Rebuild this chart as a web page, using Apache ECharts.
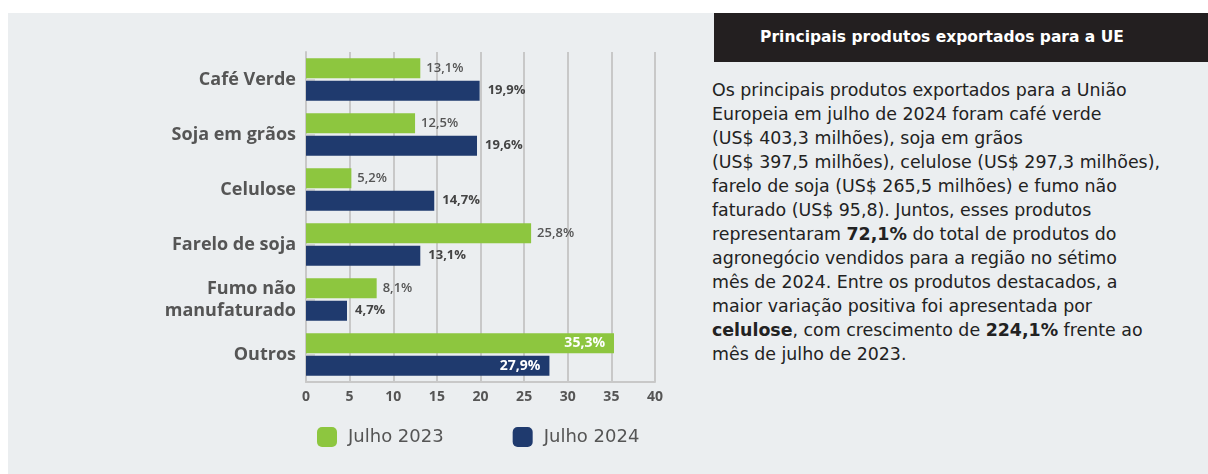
<!DOCTYPE html>
<html>
<head>
<meta charset="utf-8">
<script src="https://cdn.jsdelivr.net/npm/echarts@6/dist/echarts.min.js"></script>
<style>
  html, body { margin: 0; padding: 0; background: #fff; }
  #page { position: absolute; left: 8px; top: 13px; width: 1200px; height: 461px; background: #ebeef0; }
  #chart { position: absolute; left: 0; top: 0; width: 700px; height: 474px; }
  #head { position: absolute; left: 714px; top: 13px; width: 456px; padding-right: 38px; height: 49px; background: #231f20;
    color: #fff; font: bold 15.5px "DejaVu Sans", sans-serif; text-align: center; line-height: 49px; white-space: nowrap; }
  #txt { position: absolute; left: 712px; top: 78px; width: 496px; color: #222;
    font: 17.4px "DejaVu Sans", sans-serif; line-height: 24px; white-space: nowrap; }
  #txt b { font-weight: 700; }
</style>
</head>
<body>
<div id="page"></div>
<div id="chart"></div>
<div id="head">Principais produtos exportados para a UE</div>
<div id="txt">Os principais produtos exportados para a União<br>Europeia em julho de 2024 foram café verde<br>(US$ 403,3 milhões), soja em grãos<br>(US$ 397,5 milhões), celulose (US$ 297,3 milhões),<br>farelo de soja (US$ 265,5 milhões) e fumo não<br>faturado (US$ 95,8). Juntos, esses produtos<br>representaram <b>72,1%</b> do total de produtos do<br>agronegócio vendidos para a região no sétimo<br>mês de 2024. Entre os produtos destacados, a<br>maior variação positiva foi apresentada por<br><b>celulose</b>, com crescimento de <b>224,1%</b> frente ao<br>mês de julho de 2023.</div>
<script>
const categories = ["Café Verde", "Soja em grãos", "Celulose", "Farelo de soja", "Fumo não\nmanufaturado", "Outros"];
const julho2023 = [13.1, 12.5, 5.2, 25.8, 8.1, 35.3];
const julho2024 = [19.9, 19.6, 14.7, 13.1, 4.7, 27.9];
const xTicks = [0, 40, 5];

const fmt = v => v.toFixed(1).replace(".", ",") + "%";

// last bar (Outros) gets its label inside, in white
function toData(arr) {
  return arr.map((v, i) => {
    if (i === arr.length - 1) {
      return { value: v, label: { position: "insideRight", distance: 9, color: "#fff", fontWeight: 700, fontSize: 14 } };
    }
    return v;
  });
}

const chart = echarts.init(document.getElementById("chart"));
chart.setOption({
  animation: false,
  textStyle: { fontFamily: "Open Sans" },
  legend: {
    left: 317, top: 427, padding: 0,
    itemWidth: 20, itemHeight: 20, itemGap: 69,
    icon: "roundRect",
    textStyle: { fontFamily: "DejaVu Sans", fontSize: 18, color: "#555", padding: [0, 0, 0, 6] },
    data: ["Julho 2023", "Julho 2024"]
  },
  grid: { left: 306, top: 52, width: 349, height: 330 },
  xAxis: {
    type: "value", min: xTicks[0], max: xTicks[1], interval: xTicks[2],
    axisLine: { show: true, lineStyle: { color: "#c8c8c8", width: 2 } },
    axisTick: { show: false },
    axisLabel: { color: "#555", fontWeight: 700, fontSize: 14, margin: 8 },
    splitLine: { lineStyle: { color: "#c8c8c8", width: 2 } }
  },
  yAxis: {
    type: "category", inverse: true, data: categories,
    axisLine: { show: true, lineStyle: { color: "#c8c8c8", width: 2 } },
    axisTick: { show: true, inside: true, alignWithLabel: true, length: 9, lineStyle: { color: "#d4d4d4", width: 2 } },
    axisLabel: { color: "#555", fontWeight: 700, fontSize: 18, margin: 10, lineHeight: 22, align: "right" }
  },
  series: [
    {
      name: "Julho 2023", type: "bar", data: toData(julho2023),
      barWidth: 20, barGap: "12%",
      itemStyle: { color: "#8dc63f" },
      label: { show: true, position: "right", distance: 6, color: "#555", fontSize: 13, fontWeight: 600,
        formatter: p => fmt(p.value) }
    },
    {
      name: "Julho 2024", type: "bar", data: toData(julho2024),
      barWidth: 20,
      itemStyle: { color: "#1f3a6e" },
      label: { show: true, position: "right", distance: 8, color: "#444", fontSize: 13, fontWeight: 700,
        formatter: p => fmt(p.value) }
    }
  ]
});
</script>
</body>
</html>
